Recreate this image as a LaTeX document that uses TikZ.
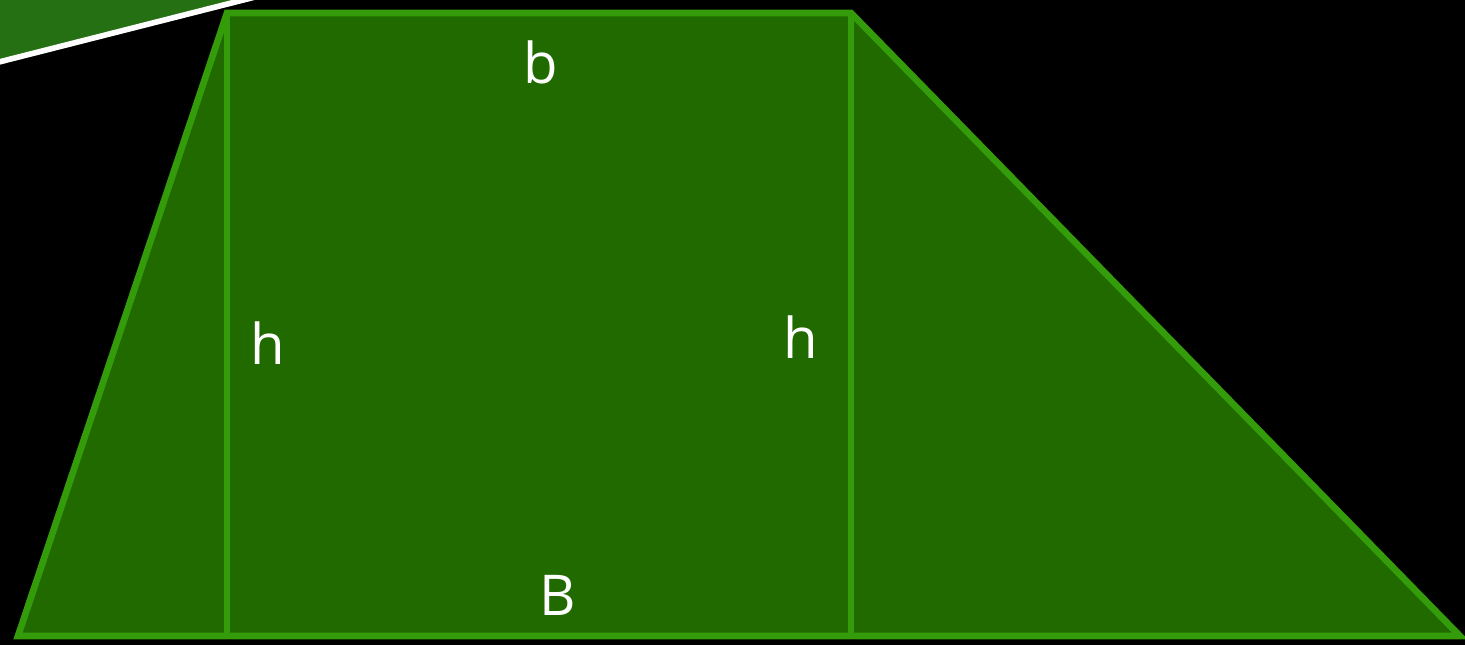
\documentclass[tikz,border=0pt]{standalone}
\usepackage{fontspec}
\setmainfont{Open Sans}
\usepackage{tikz}
\usetikzlibrary{positioning,calc}
\definecolor{areagreen}{RGB}{32,106,0}
\definecolor{edgegreen}{RGB}{52,156,10}
\definecolor{bannergreen}{RGB}{38,112,20}

\begin{document}
\begin{tikzpicture}[x=0.01cm,y=-0.01cm,
    edge/.style={draw=edgegreen, line width=1.9pt, line join=miter},
    lbl/.style={text=white, font=\fontsize{16}{19}\selectfont, inner sep=0pt}]
    \useasboundingbox (0,0) rectangle (1465,644);
    % background
    \fill[black] (-5,-5) rectangle (1470,650);
    % corner banner
    \fill[bannergreen] (-5,-5) -- (255,-5) -- (-5,64) -- cycle;
    \draw[white, line width=1.6pt] (-5,63) -- (255,-3);
    % trapezoid
    \coordinate (TL) at (227,13);
    \coordinate (TR) at (851,13);
    \coordinate (BR) at (1460,636);
    \coordinate (BL) at (18,636);
    \coordinate (FL) at (227,636);
    \coordinate (FR) at (851,636);
    \filldraw[edge, fill=areagreen] (BL) -- (TL) -- (TR) -- (BR) -- cycle;
    \draw[edge] (TL) -- (FL);
    \draw[edge] (TR) -- (FR);
    % labels
    \node[lbl] (small) at (541,62) {b};
    \node[lbl] (leftH) at (268,343) {h};
    \node[lbl] (rightH) at (801,337) {h};
    \node[lbl] (big) at (558,595) {B};
\end{tikzpicture}
\end{document}
